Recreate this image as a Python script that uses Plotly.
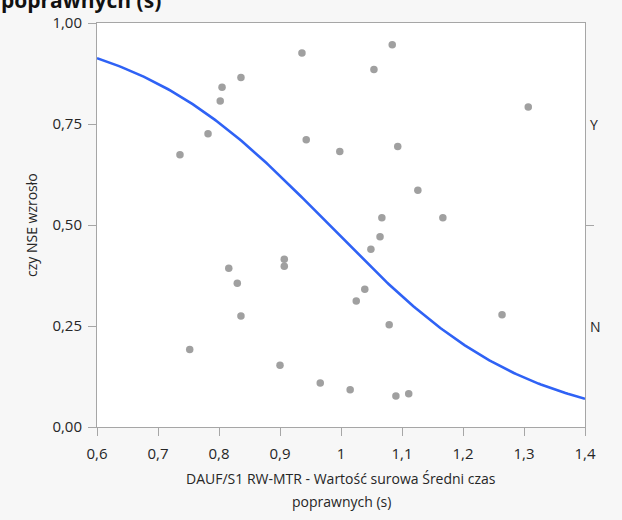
import numpy as np
import plotly.graph_objects as go

# Observations: mean correct-response time (s) and jittered position of the binary outcome
czas = [0.936, 1.084, 1.054, 0.836, 0.805, 0.802, 1.307, 0.782, 0.736, 0.943,
        0.998, 1.093, 1.126, 1.067, 1.167, 1.064, 1.049, 0.816, 0.907, 0.907,
        0.830, 1.039, 1.025, 0.836, 1.079, 1.264, 0.752, 0.900, 0.966, 1.015,
        1.090, 1.111]
pozycja = [0.926, 0.946, 0.885, 0.865, 0.841, 0.807, 0.792, 0.726, 0.674, 0.711,
           0.682, 0.694, 0.586, 0.518, 0.518, 0.471, 0.440, 0.393, 0.415, 0.398,
           0.356, 0.341, 0.312, 0.275, 0.253, 0.278, 0.192, 0.153, 0.109, 0.092,
           0.077, 0.082]

# Fitted logistic model: P(N) = 1 / (1 + exp(-(b0 + b1 * x)))
b0, b1 = 6.05, -6.17

x_ticks = [0.6, 0.7, 0.8, 0.9, 1.0, 1.1, 1.2, 1.3, 1.4]
y_ticks = [0.0, 0.25, 0.5, 0.75, 1.0]
kategorie = ["N", "Y"]
kategorie_y = [0.25, 0.75]
x_tytul = ["DAUF/S1 RW-MTR - Wartość surowa Średni czas", "poprawnych (s)"]
y_tytul = "czy NSE wzrosło"

xs = np.linspace(0.6, 1.4, 200)
ps = 1.0 / (1.0 + np.exp(-(b0 + b1 * xs)))

font = "Open Sans, Noto Sans, sans-serif"
txt = "#262626"
axis_col = "#a6a6a6"

fig = go.Figure()
fig.add_trace(go.Scatter(x=xs, y=ps, mode="lines",
                         line=dict(color="#2f62f5", width=2.6),
                         hoverinfo="skip", showlegend=False))
fig.add_trace(go.Scatter(x=czas, y=pozycja, mode="markers",
                         marker=dict(color="#a0a0a0", size=7.5),
                         showlegend=False))
# right-hand axis carrying the split tick between categories
fig.add_trace(go.Scatter(x=[None], y=[None], yaxis="y2", showlegend=False))

for lab, yv in zip(kategorie, kategorie_y):
    fig.add_annotation(x=1, y=yv, xref="paper", yref="y", text=lab,
                       showarrow=False, xanchor="left", xshift=3,
                       font=dict(family=font, size=14, color=txt))

# axis titles
for i, line in enumerate(x_tytul):
    fig.add_annotation(x=0.5, y=0, xref="paper", yref="paper", text=line,
                       showarrow=False, xanchor="center", yanchor="middle",
                       yshift=-51 - 23 * i,
                       font=dict(family=font, size=14, color=txt))
fig.add_annotation(x=0, y=0.5, xref="paper", yref="paper", text=y_tytul,
                   showarrow=False, textangle=-90, xanchor="center",
                   yanchor="middle", xshift=-66,
                   font=dict(family=font, size=14, color=txt))

# chart heading (continues above the visible area)
fig.add_annotation(x=0, y=1, xref="paper", yref="paper",
                   text="<b>poprawnych (s)</b>", showarrow=False,
                   xanchor="left", yanchor="bottom", xshift=-98, yshift=7,
                   font=dict(family=font, size=21, color="#111111"))

fig.update_layout(
    width=622, height=520,
    margin=dict(l=97, r=37, t=19, b=93),
    paper_bgcolor="#f7f7f7", plot_bgcolor="#ffffff",
    separators=", ",
    font=dict(family=font, size=14, color=txt),
    xaxis=dict(range=[0.6, 1.4], tickvals=x_ticks, ticks="outside", ticklen=8,
               tickcolor=axis_col, showline=True, linecolor=axis_col, linewidth=1,
               mirror=True, showgrid=False, zeroline=False, ticklabelstandoff=5,
               tickfont=dict(size=15, color=txt)),
    yaxis=dict(range=[0, 1], tickvals=y_ticks, tickformat=".2f", ticks="outside",
               ticklen=8, tickcolor=axis_col, showline=True, linecolor=axis_col,
               linewidth=1, mirror=True, showgrid=False, zeroline=False,
               ticklabelstandoff=3, tickfont=dict(size=15, color=txt)),
    yaxis2=dict(range=[0, 1], overlaying="y", side="right", tickvals=[0.5],
                ticktext=[""], ticks="outside", ticklen=8, tickcolor=axis_col,
                showline=False, showgrid=False, zeroline=False),
)

fig.write_html("out.html")
